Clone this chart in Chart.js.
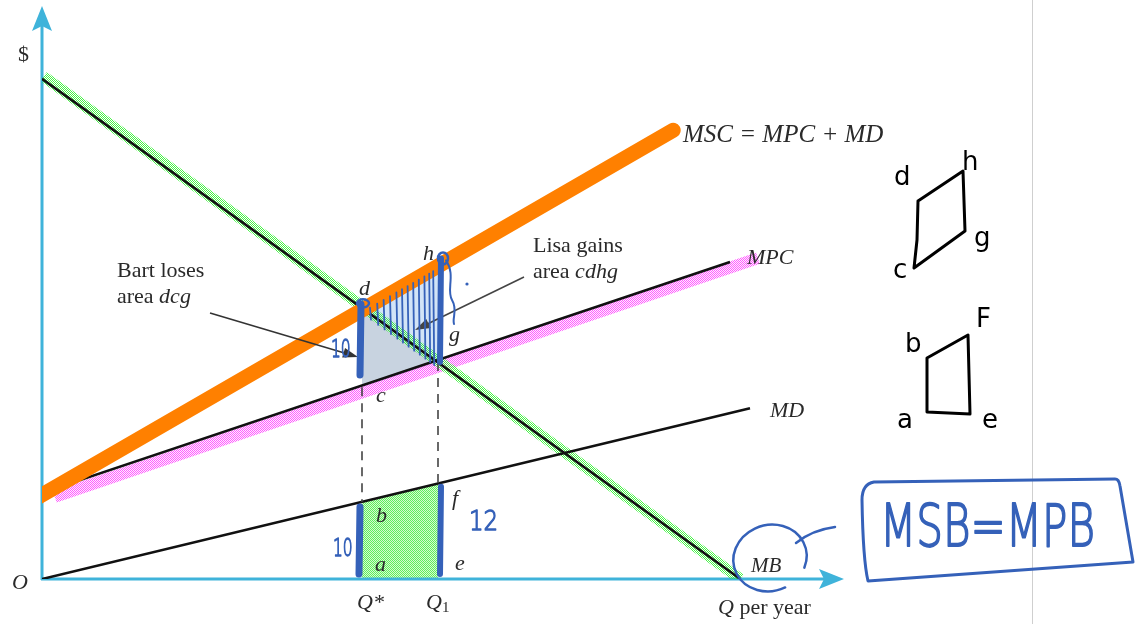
<!DOCTYPE html>
<html><head><meta charset="utf-8">
<script src="https://cdn.jsdelivr.net/npm/chart.js@4.4.1/dist/chart.umd.min.js"></script>
<style>html,body{margin:0;padding:0;background:#fff;overflow:hidden}canvas{display:block}</style>
</head><body>
<canvas id="c" width="1135" height="624"></canvas>
<script>
// ---- Data (arbitrary units: Q 0..100, $ 0..100) ----
const mbX  = [0, 87.3];   const mbY  = [87.6, 0];     // MB (demand) line
const mpcX = [0, 86.0];   const mpcY = [15.1, 55.5];  // MPC line
const mdX  = [0, 88.5];   const mdY  = [0, 29.9];     // MD line
const mscX = [0, 78.5];   const mscY = [15.1, 78.5];  // MSC = MPC + MD
const qStar = 40.0;       // Q*
const q1 = 49.5;          // Q1
const pointNames = ['d', 'c', 'g', 'h', 'b', 'f', 'a', 'e'];
const pointX     = [40.0, 40.0, 49.5, 49.5, 40.0, 49.5, 40.0, 49.5];
const pointY     = [47.4, 33.6, 38.0, 55.1, 13.5, 16.7, 0, 0];
// hand-drawn highlight strokes (pen marks over the textbook figure)
const orangeX  = [-0.4, 78.9];  const orangeY  = [14.4, 78.6];
const magentaX = [1.6, 89.5];   const magentaY = [14.4, 56.2];
const greenX   = [0.2, 87.3];   const greenY   = [88.0, 0];
const hatchX = [41.0, 41.9, 42.7, 43.5, 44.3, 45.0, 45.7, 46.4, 47.1, 47.8, 48.4, 48.9];

const P = n => ({x: pointX[pointNames.indexOf(n)], y: pointY[pointNames.indexOf(n)]});
const pts = (xs, ys) => xs.map((x, i) => ({x, y: ys[i]}));

function checker(on, off){
  const c = document.createElement('canvas'); c.width = 2; c.height = 2;
  const g = c.getContext('2d');
  if (off) { g.fillStyle = off; g.fillRect(0,0,2,2); }
  g.fillStyle = on; g.fillRect(0,0,1,1); g.fillRect(1,1,1,1);
  return document.getElementById('c').getContext('2d').createPattern(c, 'repeat');
}
const greenPat = checker('rgba(40,240,40,0.85)', null);
const greenFill = checker('#5cf05c', '#d8f8d0');
const magentaPat = checker('rgba(255,60,255,0.8)', 'rgba(255,200,255,0.35)');

const BLUE = '#3561b9';
const TXT = '#2a2a2a';
const AX = '#3fb3da';

const lineDs = (label, data, color, width, order, extra) => Object.assign({
  label, data, showLine: true, borderColor: color, borderWidth: width,
  pointRadius: 0, fill: false, order, tension: 0
}, extra || {});

const overlay = {
  id: 'overlay',
  beforeDatasetsDraw(chart){
    const {ctx, scales:{x, y}} = chart;
    const X = v => x.getPixelForValue(v), Y = v => y.getPixelForValue(v);
    ctx.save();
    ctx.strokeStyle = '#cfcfcf'; ctx.lineWidth = 1;
    ctx.beginPath(); ctx.moveTo(1032.5, 0); ctx.lineTo(1032.5, 624); ctx.stroke();
    const a = P('a'), b = P('b'), f = P('f'), e = P('e');
    ctx.fillStyle = greenFill;
    ctx.beginPath(); ctx.moveTo(X(a.x), Y(a.y)); ctx.lineTo(X(b.x), Y(b.y));
    ctx.lineTo(X(f.x), Y(f.y)); ctx.lineTo(X(e.x), Y(e.y)); ctx.closePath(); ctx.fill();
    const d = P('d'), c = P('c'), g = P('g'), h = P('h');
    ctx.fillStyle = 'rgba(190,203,218,0.85)';
    ctx.beginPath(); ctx.moveTo(X(d.x), Y(d.y)); ctx.lineTo(X(c.x), Y(c.y));
    ctx.lineTo(X(g.x), Y(g.y)); ctx.closePath(); ctx.fill();
    ctx.fillStyle = 'rgba(205,225,246,0.9)';
    ctx.beginPath(); ctx.moveTo(X(d.x), Y(d.y)); ctx.lineTo(X(h.x), Y(h.y));
    ctx.lineTo(X(g.x), Y(g.y)); ctx.closePath(); ctx.fill();
    ctx.strokeStyle = AX; ctx.fillStyle = AX; ctx.lineWidth = 3;
    const ox = X(0), oy = Y(0);
    ctx.beginPath(); ctx.moveTo(ox, oy + 1); ctx.lineTo(ox, 26); ctx.stroke();
    ctx.beginPath(); ctx.moveTo(ox, 6); ctx.lineTo(ox - 10, 31); ctx.lineTo(ox, 26); ctx.lineTo(ox + 10, 31); ctx.closePath(); ctx.fill();
    ctx.beginPath(); ctx.moveTo(ox - 1, oy); ctx.lineTo(824, oy); ctx.stroke();
    ctx.beginPath(); ctx.moveTo(844, oy); ctx.lineTo(819, oy - 10); ctx.lineTo(824, oy); ctx.lineTo(819, oy + 10); ctx.closePath(); ctx.fill();
    ctx.restore();
  },
  afterDatasetsDraw(chart){
    const {ctx, scales:{x, y}} = chart;
    const X = v => x.getPixelForValue(v), Y = v => y.getPixelForValue(v);
    ctx.save();
    ctx.textBaseline = 'alphabetic';
    ctx.fillStyle = TXT;
    const serif = '"Liberation Serif", "DejaVu Serif", serif';
    const t = (s, px, py, size, it) => { ctx.font = (it ? 'italic ' : '') + size + 'px ' + serif; ctx.fillText(s, px, py); };
    t('$', 18, 61, 22, false);
    t('O', 12, 589, 22, true);
    t('Q*', 357, 609, 22, true);
    t('Q', 426, 609, 22, true); t('1', 442, 612, 15, false);
    t('Q', 718, 614, 22, true); t(' per year', 734, 614, 22, false);
    t('MSC = MPC + MD', 683, 142, 25, true);
    t('MPC', 747, 264, 22, true);
    t('MD', 770, 417, 22, true);
    t('MB', 751, 572, 21, true);
    t('d', 359, 295, 22, true);
    t('h', 423, 260, 22, true);
    t('g', 449, 341, 22, true);
    t('c', 376, 402, 22, true);
    t('b', 376, 522, 22, true);
    t('a', 375, 571, 22, true);
    t('f', 452, 505, 22, true);
    t('e', 455, 570, 22, true);
    t('Bart loses', 117, 277, 22, false);
    t('area ', 117, 303, 22, false);
    ctx.font = '22px ' + serif; let w = ctx.measureText('area ').width;
    t('dcg', 117 + w, 303, 22, true);
    t('Lisa gains', 533, 252, 22, false);
    t('area ', 533, 278, 22, false);
    t('cdhg', 533 + w, 278, 22, true);
    const arrow = (x0, y0, x1, y1, col) => {
      ctx.strokeStyle = col; ctx.fillStyle = col; ctx.lineWidth = 1.6;
      const ang = Math.atan2(y1 - y0, x1 - x0);
      ctx.beginPath(); ctx.moveTo(x0, y0); ctx.lineTo(x1 - 8 * Math.cos(ang), y1 - 8 * Math.sin(ang)); ctx.stroke();
      ctx.beginPath(); ctx.moveTo(x1, y1);
      ctx.lineTo(x1 - 15 * Math.cos(ang) + 5 * Math.sin(ang), y1 - 15 * Math.sin(ang) - 5 * Math.cos(ang));
      ctx.lineTo(x1 - 15 * Math.cos(ang) - 5 * Math.sin(ang), y1 - 15 * Math.sin(ang) + 5 * Math.cos(ang));
      ctx.closePath(); ctx.fill();
    };
    arrow(210, 313, 358, 357, '#333');
    arrow(524, 277, 415, 330, '#444');

    // ---- blue pen annotations ----
    ctx.strokeStyle = BLUE; ctx.fillStyle = BLUE; ctx.lineCap = 'round'; ctx.lineJoin = 'round';
    ctx.lineWidth = 1.8;
    hatchX.forEach(hx => {
      const top = mscY[0] + (mscY[1] - mscY[0]) * (hx - mscX[0]) / (mscX[1] - mscX[0]);
      const bot = mbY[0] + (mbY[1] - mbY[0]) * (hx - mbX[0]) / (mbX[1] - mbX[0]);
      ctx.beginPath(); ctx.moveTo(X(hx), Y(top) + 4); ctx.lineTo(X(hx) + 1, Y(bot) + 6); ctx.stroke();
    });
    ctx.lineWidth = 7;
    ctx.beginPath(); ctx.moveTo(X(qStar) - 1, Y(P('d').y) - 4); ctx.lineTo(X(qStar) - 2, 375); ctx.stroke();
    ctx.lineWidth = 6;
    ctx.beginPath(); ctx.moveTo(X(q1) + 3, Y(P('h').y) - 6); ctx.lineTo(X(q1) + 2, 362); ctx.stroke();
    ctx.lineWidth = 2.5;
    ctx.beginPath(); ctx.ellipse(X(qStar) + 1, Y(P('d').y) - 5, 6, 4, 0, 0, Math.PI * 2); ctx.stroke();
    ctx.beginPath(); ctx.ellipse(X(q1) + 5, Y(P('h').y) - 6, 5, 6, 0, 0, Math.PI * 2); ctx.stroke();
    ctx.lineWidth = 2;
    ctx.beginPath(); ctx.moveTo(X(q1) + 8, Y(P('h').y) - 4);
    ctx.bezierCurveTo(456, 275, 446, 290, 452, 300);
    ctx.bezierCurveTo(458, 310, 452, 318, 454, 324); ctx.stroke();
    ctx.beginPath(); ctx.arc(467, 284, 1.6, 0, Math.PI * 2); ctx.fill();
    ctx.lineWidth = 7;
    ctx.beginPath(); ctx.moveTo(X(qStar) - 2, Y(P('b').y) + 5); ctx.lineTo(X(qStar) - 3, 574); ctx.stroke();
    ctx.lineWidth = 6;
    ctx.beginPath(); ctx.moveTo(X(q1) + 3, Y(P('f').y) + 3); ctx.lineTo(X(q1) + 2, 574); ctx.stroke();
    // handwritten numbers: thin font, narrowed, thickened by a stroke
    const pen = (s, px, py, size, sx) => {
      ctx.save(); ctx.translate(px, py); ctx.scale(sx, 1);
      ctx.font = '200 ' + size + 'px "DejaVu Sans", sans-serif'; ctx.lineWidth = 1.3;
      ctx.fillText(s, 0, 0); ctx.strokeText(s, 0, 0); ctx.restore();
    };
    pen('10', 331, 357, 25, 0.62);
    pen('10', 333, 556, 25, 0.62);
    pen('12', 469, 530, 27, 0.85);
    ctx.lineWidth = 2.5;
    ctx.beginPath(); ctx.ellipse(770, 558, 37, 33, -0.3, Math.PI * 0.45, Math.PI * 2.2); ctx.stroke();
    ctx.beginPath(); ctx.moveTo(796, 543); ctx.quadraticCurveTo(812, 530, 835, 527); ctx.stroke();
    ctx.lineWidth = 3;
    ctx.beginPath();
    ctx.moveTo(874, 482); ctx.lineTo(1115, 479); ctx.quadraticCurveTo(1119, 479, 1120, 486);
    ctx.lineTo(1133, 562); ctx.lineTo(868, 581);
    ctx.quadraticCurveTo(863, 560, 862, 500); ctx.quadraticCurveTo(862, 484, 874, 482);
    ctx.stroke();
    ctx.save();
    ctx.font = '200 58px "DejaVu Sans", sans-serif';
    const mw = ctx.measureText('MSB=MPB').width;
    ctx.translate(880, 546); ctx.scale(215 / mw, 1);
    ctx.lineWidth = 1.8;
    ctx.fillText('MSB=MPB', 0, 0); ctx.strokeText('MSB=MPB', 0, 0);
    ctx.restore();

    // ---- black pen diagrams on the right ----
    ctx.strokeStyle = '#000'; ctx.fillStyle = '#000'; ctx.lineWidth = 3;
    ctx.beginPath(); ctx.moveTo(918, 201); ctx.lineTo(963, 171); ctx.lineTo(965, 231);
    ctx.lineTo(914, 268); ctx.lineTo(917, 240); ctx.lineTo(918, 201); ctx.stroke();
    ctx.beginPath(); ctx.moveTo(927, 358); ctx.lineTo(968, 335); ctx.lineTo(970, 414);
    ctx.lineTo(927, 412); ctx.closePath(); ctx.stroke();
    ctx.font = '26px "DejaVu Sans", sans-serif';
    ctx.fillText('d', 894, 185); ctx.fillText('h', 962, 170);
    ctx.fillText('g', 974, 246); ctx.fillText('c', 893, 278);
    ctx.fillText('b', 905, 352); ctx.fillText('F', 976, 327);
    ctx.fillText('a', 897, 428); ctx.fillText('e', 982, 428);
    ctx.restore();
  }
};

new Chart(document.getElementById('c'), {
  type: 'scatter',
  data: {
    datasets: [
      lineDs('orange highlight', pts(orangeX, orangeY), '#ff8000', 15, 0, {borderCapStyle: 'round'}),
      lineDs('Q* dashed', [{x: qStar, y: P('c').y}, {x: qStar, y: P('b').y}], '#444', 1.6, 1, {borderDash: [9, 7]}),
      lineDs('Q1 dashed', [{x: q1, y: P('g').y}, {x: q1, y: P('f').y}], '#444', 1.6, 1, {borderDash: [9, 7]}),
      lineDs('MSC', pts(mscX, mscY), '#111', 2.6, 1),
      lineDs('MPC', pts(mpcX, mpcY), '#111', 2.6, 1),
      lineDs('MD', pts(mdX, mdY), '#111', 2.6, 1),
      lineDs('MB', pts(mbX, mbY), '#111', 2.6, 1),
      lineDs('green highlight', pts(greenX, greenY), greenPat, 11, 2),
      lineDs('magenta highlight', pts(magentaX, magentaY), magentaPat, 12, 2)
    ]
  },
  options: {
    responsive: false, animation: false,
    layout: {padding: {left: 42, top: 8, right: 293, bottom: 45}},
    scales: {
      x: {type: 'linear', min: 0, max: 100, display: false},
      y: {type: 'linear', min: 0, max: 100, display: false}
    },
    plugins: {legend: {display: false}, tooltip: {enabled: false}},
    elements: {line: {borderCapStyle: 'butt'}}
  },
  plugins: [overlay]
});
</script>
</body></html>
